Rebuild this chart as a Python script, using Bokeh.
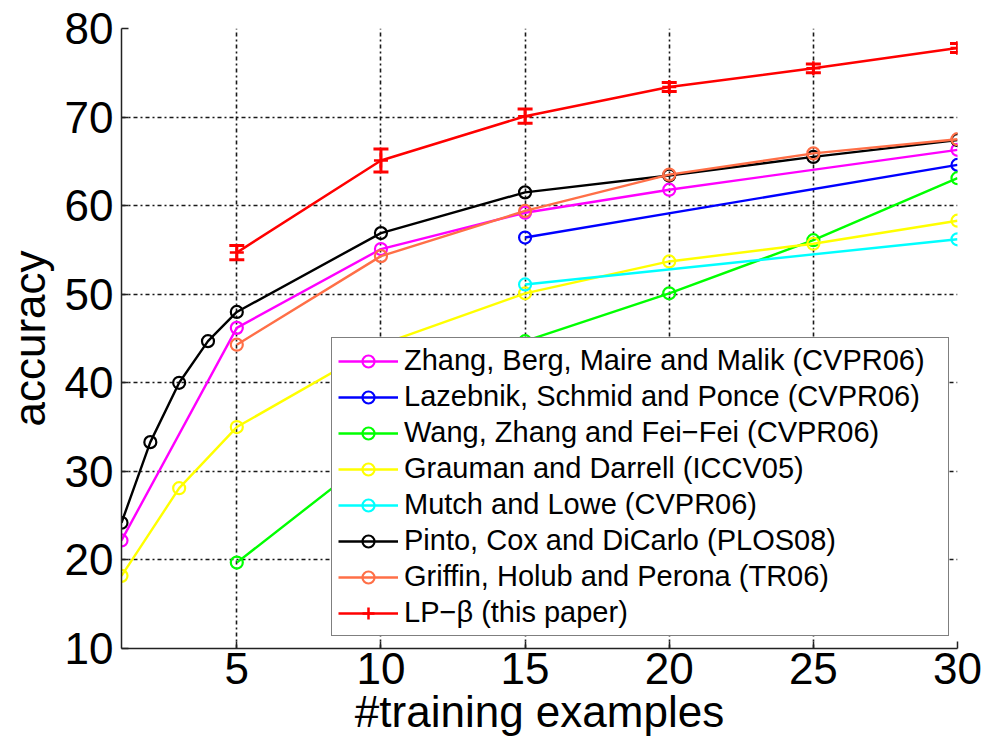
from bokeh.plotting import figure
from bokeh.models import (ColumnDataSource, Whisker, TeeHead, Legend, LegendItem,
                          FixedTicker, Range1d)
from bokeh.embed import file_html
from bokeh.resources import INLINE

# Accuracy vs. number of training examples per class
zhang_x = [1, 5, 10, 15, 20, 30]
zhang_y = [22.2, 46.2, 55.1, 59.2, 61.8, 66.3]

lazebnik_x = [15, 30]
lazebnik_y = [56.4, 64.6]

wang_x = [5, 10, 15, 20, 25, 30]
wang_y = [19.7, 32.4, 44.7, 50.1, 56.1, 63.1]

grauman_x = [1, 3, 5, 10, 15, 20, 25, 30]
grauman_y = [18.2, 28.1, 35.0, 44.3, 50.1, 53.7, 55.7, 58.3]

mutch_x = [15, 30]
mutch_y = [51.1, 56.2]

pinto_x = [1, 2, 3, 4, 5, 10, 15, 20, 25, 30]
pinto_y = [24.2, 33.3, 40.0, 44.7, 48.0, 56.9, 61.5, 63.4, 65.5, 67.4]

griffin_x = [5, 10, 15, 20, 25, 30]
griffin_y = [44.3, 54.3, 59.4, 63.5, 65.9, 67.5]

lp_x = [5, 10, 15, 20, 25, 30]
lp_y = [54.7, 65.1, 70.1, 73.4, 75.5, 77.8]
lp_err = [0.8, 1.3, 0.8, 0.5, 0.5, 0.5]

x_ticks = [5, 10, 15, 20, 25, 30]
y_ticks = [10, 20, 30, 40, 50, 60, 70, 80]

series = [
    ("Zhang, Berg, Maire and Malik (CVPR06)", zhang_x, zhang_y, "#FF00FF"),
    ("Lazebnik, Schmid and Ponce (CVPR06)", lazebnik_x, lazebnik_y, "#0000FF"),
    ("Wang, Zhang and Fei\u2212Fei (CVPR06)", wang_x, wang_y, "#00FF00"),
    ("Grauman and Darrell (ICCV05)", grauman_x, grauman_y, "#FFFF00"),
    ("Mutch and Lowe (CVPR06)", mutch_x, mutch_y, "#00FFFF"),
    ("Pinto, Cox and DiCarlo (PLOS08)", pinto_x, pinto_y, "#000000"),
    ("Griffin, Holub and Perona (TR06)", griffin_x, griffin_y, "#FF6F47"),
]

FONT = "Liberation Sans"

p = figure(width=987, height=749, x_range=Range1d(1, 30), y_range=Range1d(10, 80),
           output_backend="svg", toolbar_location=None,
           min_border_left=121, min_border_right=30, min_border_top=28,
           min_border_bottom=101)
p.outline_line_color = None
p.background_fill_color = "white"
p.border_fill_color = "white"

# axes
for ax in (p.xaxis, p.yaxis):
    ax.major_label_text_font = FONT
    ax.major_label_text_font_size = "44px"
    ax.major_label_text_color = "black"
    ax.axis_label_text_font = FONT
    ax.axis_label_text_font_size = "44px"
    ax.axis_label_text_font_style = "normal"
    ax.axis_label_text_color = "black"
    ax.axis_line_color = "#222222"
    ax.axis_line_width = 1.5
    ax.major_tick_line_color = "#222222"
    ax.major_tick_line_width = 1.5
    ax.major_tick_in = 7
    ax.major_tick_out = 0
    ax.minor_tick_line_color = None

p.xaxis.ticker = FixedTicker(ticks=x_ticks)
p.yaxis.ticker = FixedTicker(ticks=y_ticks)
p.xaxis.axis_label = "#training examples"
p.yaxis.axis_label = "accuracy"
p.xaxis.major_label_standoff = 4
p.xaxis.axis_label_standoff = 0
p.yaxis.major_label_standoff = 8
p.yaxis.axis_label_standoff = 8

# dotted grid
p.xgrid.ticker = FixedTicker(ticks=x_ticks)
p.ygrid.ticker = FixedTicker(ticks=y_ticks)
for g in (p.xgrid, p.ygrid):
    g.grid_line_color = "black"
    g.grid_line_width = 1.6
    g.grid_line_dash = "4 3 2 3"
    g.grid_line_alpha = 0.9

items = []
for label, xs, ys, color in series:
    src = ColumnDataSource(dict(x=xs, y=ys))
    ln = p.line("x", "y", source=src, line_color=color, line_width=2.4)
    sc = p.scatter("x", "y", source=src, marker="circle", size=12,
                   fill_color=None, line_color=color, line_width=2.2)
    items.append(LegendItem(label=label, renderers=[ln, sc]))

# LP-beta with error bars
lp_src = ColumnDataSource(dict(
    x=lp_x, y=lp_y,
    lower=[v - e for v, e in zip(lp_y, lp_err)],
    upper=[v + e for v, e in zip(lp_y, lp_err)],
))
lp_line = p.line("x", "y", source=lp_src, line_color="#FF0000", line_width=2.5)
whisker = Whisker(base="x", lower="lower", upper="upper", source=lp_src,
                  line_color="#FF0000", line_width=3,
                  upper_head=TeeHead(size=15, line_color="#FF0000", line_width=3),
                  lower_head=TeeHead(size=15, line_color="#FF0000", line_width=3))
p.add_layout(whisker)
lp_pts = p.scatter("x", "y", source=lp_src, marker="cross", size=14,
                   line_color="#FF0000", line_width=2.5)
items.append(LegendItem(label="LP\u2212\u03b2 (this paper)", renderers=[lp_line, lp_pts]))

legend = Legend(items=items, location=(210, 12), margin=0,
                label_text_font=FONT, label_text_font_size="29px",
                label_text_color="black",
                label_height=30, glyph_height=30, glyph_width=60,
                label_width=538, label_standoff=6, spacing=3, padding=6,
                border_line_color="black", border_line_width=1.2,
                background_fill_color="white", background_fill_alpha=1.0)
p.add_layout(legend, "center")

open("out.html", "w").write(file_html(p, INLINE))
